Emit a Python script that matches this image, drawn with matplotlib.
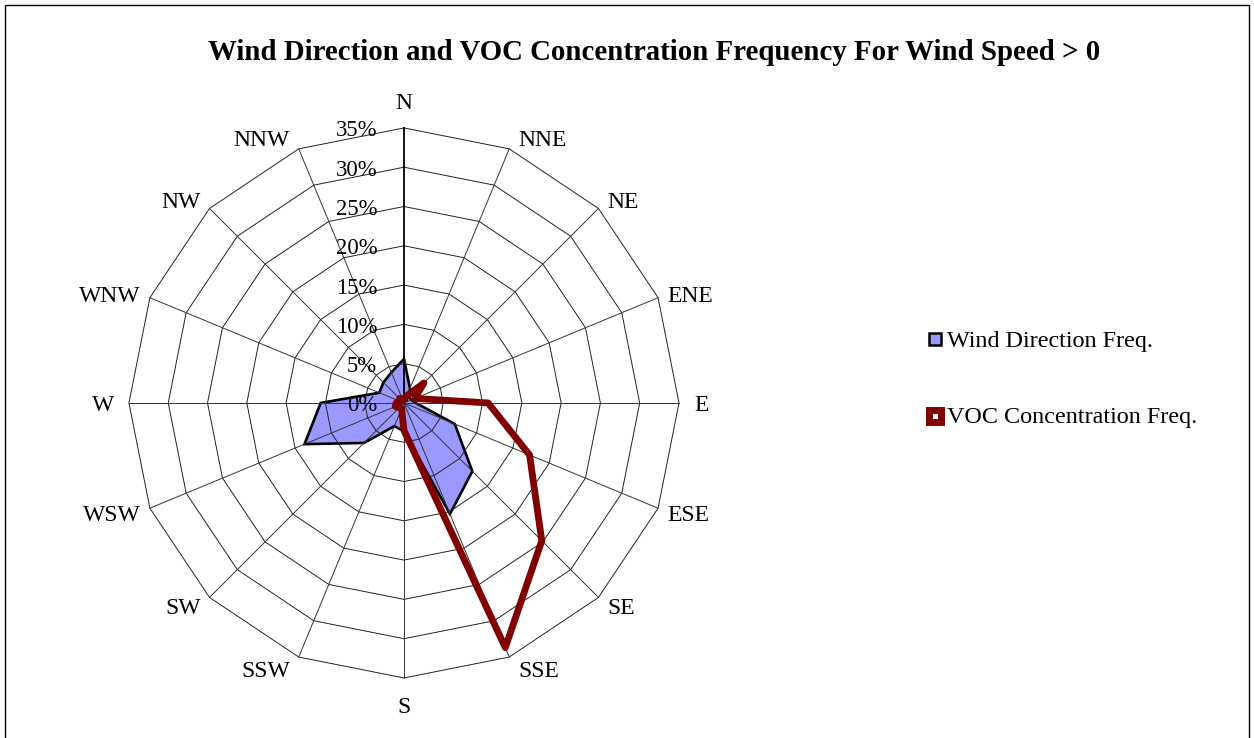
import numpy as np
import matplotlib.pyplot as plt
from matplotlib.lines import Line2D
from matplotlib.patches import Rectangle

plt.rcParams['font.family'] = ['Liberation Serif', 'DejaVu Serif']

directions = ['N', 'NNE', 'NE', 'ENE', 'E', 'ESE', 'SE', 'SSE',
              'S', 'SSW', 'SW', 'WSW', 'W', 'WNW', 'NW', 'NNW']
wind_freq = [5.6, 2.0, 1.0, 1.0, 1.5, 7.0, 12.3, 15.3,
             3.6, 3.2, 7.2, 13.7, 10.6, 3.4, 3.7, 4.2]
voc_freq = [0.5, 1.0, 3.6, 1.5, 10.7, 17.3, 24.8, 33.7,
            3.5, 0.8, 0.8, 1.2, 1.0, 0.5, 0.8, 0.5]
ring_levels = [0, 5, 10, 15, 20, 25, 30, 35]
ring_labels = ['0%', '5%', '10%', '15%', '20%', '25%', '30%', '35%']

angles = np.deg2rad(np.arange(len(directions)) * 22.5)


def to_xy(r):
    r = np.asarray(r, dtype=float)
    return r * np.sin(angles), r * np.cos(angles)


def closed(a):
    return np.append(a, a[0])


fig = plt.figure(figsize=(12.54, 7.38), dpi=100)
ax = fig.add_axes([0.0715, 0.0281, 0.5013, 0.8518])
ax.set_xlim(-40, 40)
ax.set_ylim(-40, 40)
ax.set_aspect('equal')
ax.axis('off')

px = 1 / 7.857  # one pixel in data units

# wind direction (filled)
wx, wy = to_xy(wind_freq)
ax.fill(closed(wx), closed(wy), facecolor='#9999FF', edgecolor='black',
        lw=1.9, zorder=2)

# polygon grid rings, drawn over the fill like the original
rmax = ring_levels[-1]
for lvl in ring_levels[1:]:
    gx, gy = to_xy(np.full(len(directions), lvl))
    ax.plot(closed(gx), closed(gy), color='#222222', lw=0.7, zorder=3)

# spokes
sx, sy = to_xy(np.full(len(directions), rmax))
for i in range(len(directions)):
    lw = 1.3 if i == 0 else 0.7
    col = 'black' if i == 0 else '#333333'
    ax.plot([0, sx[i]], [0, sy[i]], color=col, lw=lw, zorder=3)

# VOC concentration (thick line)
vx, vy = to_xy(voc_freq)
ax.plot(closed(vx), closed(vy), color='#800000', lw=4.9,
        solid_joinstyle='round', zorder=4)

# value labels along the N axis
for lvl, lab in zip(ring_levels, ring_labels):
    ax.text(-3.4, lvl - 3 * px, lab, ha='right', va='center', fontsize=16.3,
            zorder=5)

# direction labels, placed just outside the outer ring
for ang, name, tx, ty in zip(angles, directions, sx, sy):
    s, c = np.sin(ang), np.cos(ang)
    if abs(s) < 0.1:
        ax.text(tx, ty + np.sign(c) * 27 * px - 3 * px, name, ha='center',
                va='center', fontsize=17)
    else:
        gap = 15 if abs(c) < 0.1 else 9
        ax.text(tx + np.sign(s) * gap * px, ty + c * 12 * px - 3 * px, name,
                ha='left' if s > 0 else 'right', va='center', fontsize=17)

fig.text(0.522, 0.929, 'Wind Direction and VOC Concentration Frequency For Wind Speed > 0',
         ha='center', va='center', fontsize=20.8, fontweight='bold')

# legend
fig.add_artist(Line2D([935 / 1254], [1 - 339 / 738], transform=fig.transFigure,
                      marker='s', markersize=8.5, markerfacecolor='#9999FF',
                      markeredgecolor='black', markeredgewidth=1.8, ls='none'))
fig.text(947 / 1254, 1 - 341 / 738, 'Wind Direction Freq.', ha='left',
         va='center', fontsize=17.4)
fig.add_artist(Line2D([935 / 1254], [1 - 416 / 738], transform=fig.transFigure,
                      marker='s', markersize=8.5, markerfacecolor='white',
                      markeredgecolor='#800000', markeredgewidth=5.0, ls='none'))
fig.text(947 / 1254, 1 - 418 / 738, 'VOC Concentration Freq.', ha='left',
         va='center', fontsize=17.4)

# chart area border
fig.add_artist(Rectangle((5 / 1254, -0.05), 1244 / 1254, 1.05 - 5 / 738,
                         transform=fig.transFigure, fill=False,
                         edgecolor='black', lw=1.0))

fig.savefig('out.png', dpi=100)
